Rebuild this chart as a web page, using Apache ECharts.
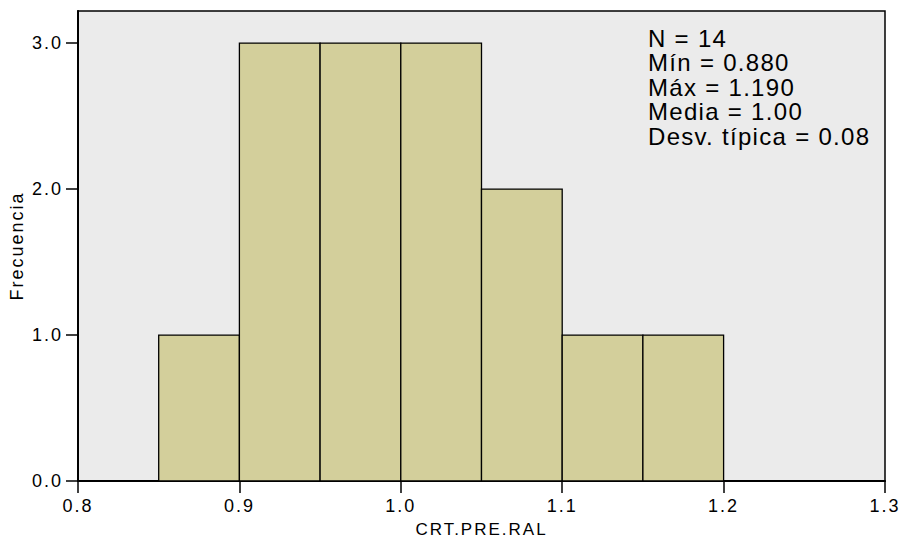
<!DOCTYPE html>
<html>
<head>
<meta charset="utf-8">
<script src="https://cdn.jsdelivr.net/npm/echarts@6/dist/echarts.min.js"></script>
<style>
  html, body { margin: 0; padding: 0; background: #fff; }
  #chart { width: 905px; height: 543px; }
  #chart text { letter-spacing: 2px; }
  #chart text[style*="24px"] { letter-spacing: 1.3px; }
</style>
</head>
<body>
<div id="chart"></div>
<script>
// Histogram bins (lower edge, upper edge) and frequencies
const binStart = [0.85, 0.90, 0.95, 1.00, 1.05, 1.10, 1.15];
const binEnd   = [0.90, 0.95, 1.00, 1.05, 1.10, 1.15, 1.20];
const freq     = [1, 3, 3, 3, 2, 1, 1];

const xTicks = [0.8, 0.9, 1.0, 1.1, 1.2, 1.3];
const yTicks = [0, 1, 2, 3];

const statLines = [
  "N = 14",
  "Mín = 0.880",
  "Máx = 1.190",
  "Media = 1.00",
  "Desv. típica = 0.08"
];

const xName = "CRT.PRE.RAL";
const yName = "Frecuencia";

const FONT = '"Liberation Sans", Arial, Helvetica, sans-serif';

const barData = binStart.map((s, i) => [s, binEnd[i], freq[i]]);

const chart = echarts.init(document.getElementById('chart'), null, { renderer: 'svg' });

chart.setOption({
  animation: false,
  backgroundColor: '#ffffff',
  grid: {
    left: 78, right: 20, top: 11, bottom: 62,
    show: true,
    backgroundColor: '#ebebeb',
    borderColor: '#000',
    borderWidth: 1.5
  },
  xAxis: {
    type: 'value',
    min: 0.8, max: 1.3, interval: 0.1,
    name: xName,
    nameLocation: 'middle',
    nameGap: 40,
    nameTextStyle: { fontFamily: FONT, fontSize: 17, color: '#000' },
    axisLine: { show: true, onZero: false, lineStyle: { color: '#000', width: 2 } },
    axisTick: { show: true, length: 12, inside: false, lineStyle: { color: '#000', width: 1.5 },
                customValues: xTicks },
    axisLabel: { fontFamily: FONT, fontSize: 18, color: '#000', margin: 16,
                 customValues: xTicks,
                 formatter: v => Number(v).toFixed(1) },
    splitLine: { show: false }
  },
  yAxis: {
    type: 'value',
    min: 0, max: 3.22, interval: 1,
    name: yName,
    nameLocation: 'middle',
    nameGap: 52,
    nameTextStyle: { fontFamily: FONT, fontSize: 18, color: '#000' },
    axisLine: { show: true, onZero: false, lineStyle: { color: '#000', width: 2 } },
    axisTick: { show: true, length: 12, inside: false, lineStyle: { color: '#000', width: 1.5 },
                customValues: yTicks },
    axisLabel: { fontFamily: FONT, fontSize: 18, color: '#000', margin: 15,
                 customValues: yTicks,
                 formatter: v => Number(v).toFixed(1) },
    splitLine: { show: false }
  },
  series: [{
    type: 'custom',
    data: barData,
    encode: { x: [0, 1], y: 2 },
    renderItem: function (params, api) {
      const p0 = api.coord([api.value(0), api.value(2)]);
      const p1 = api.coord([api.value(1), 0]);
      return {
        type: 'rect',
        shape: { x: p0[0], y: p0[1], width: p1[0] - p0[0], height: p1[1] - p0[1] },
        style: { fill: '#d3cf9b', stroke: '#000', lineWidth: 1.3 }
      };
    },
    z: 2
  }],
  graphic: [{
    type: 'text',
    left: 648,
    top: 26,
    z: 10,
    style: {
      text: statLines.join('\n'),
      fontFamily: FONT,
      fontSize: 24,
      lineHeight: 24.5,
      fill: '#000'
    }
  }]
});
</script>
</body>
</html>
